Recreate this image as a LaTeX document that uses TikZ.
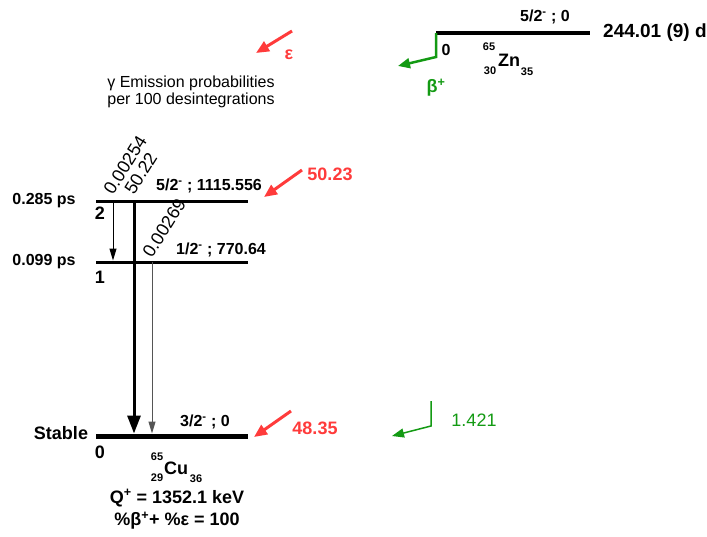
\documentclass[tikz,border=0pt]{standalone}
\usepackage{fontspec}
\setmainfont{Liberation Sans}
\usetikzlibrary{positioning,arrows.meta}
\definecolor{cRed}{HTML}{FF3B3B}
\definecolor{cGreen}{HTML}{139A13}
\definecolor{cGrey}{HTML}{555555}

\begin{document}
\begin{tikzpicture}[x=1pt,y=-1pt,
      lvl/.style={line width=3pt},
      txt/.style={inner sep=0pt,font=\bfseries\fontsize{16}{16}\selectfont},
      big/.style={inner sep=0pt,font=\bfseries\fontsize{18}{18}\selectfont},
      iso/.style={inner sep=0pt,font=\bfseries\fontsize{11}{11}\selectfont},
      note/.style={inner sep=0pt,font=\fontsize{16}{17}\selectfont,align=left},
      gam/.style={inner sep=0pt,anchor=base west,rotate=58,font=\fontsize{18}{18}\selectfont},
      feed/.style={cRed,line width=3pt,-{Triangle[length=13pt,width=11pt]}},
      beta/.style={cGreen,line width=2.5pt,-{Triangle[length=12pt,width=10pt]}}]
    \useasboundingbox (0,0) rectangle (707,536);
    % parent 65Zn
    \coordinate (znw) at (436,33);
    \coordinate (zne) at (590,33);
    \draw[line width=4.5pt] (znw) -- (zne);
    \node[txt] (znspin) at (545,17) {5/2\textsuperscript{-} ; 0};
    \node[big,anchor=west,font=\bfseries\fontsize{19}{19}\selectfont] (znhl) at (603,33) {244.01 (9) d};
    \node[txt] (znlev) at (446,50) {0};
    \node[big] (zn) at (509,60) {Zn};
    \node[iso] (znA) at (489,47) {65};
    \node[iso] (znZ) at (490,71) {30};
    \node[iso] (znN) at (527,72) {35};
    \coordinate (bk) at (436,57);
    \coordinate (bt) at (398,66);
    \draw[beta] (znw) -- (bk) -- (bt);
    \node[big,text=cGreen] (bplus) at (436,88) {β\textsuperscript{+}};
    \coordinate (es) at (292,31);
    \coordinate (et) at (256,53);
    \draw[feed] (es) -- (et);
    \node[big,text=cRed] (eps) at (289,55) {ε};
    \node[note] (info) at (191,92) {γ Emission probabilities\\per 100 desintegrations};
    % levels of 65Cu
    \coordinate (l2w) at (96,201);
    \coordinate (l2e) at (248,201);
    \coordinate (l1w) at (96,262);
    \coordinate (l1e) at (248,262);
    \coordinate (l0w) at (96,436);
    \coordinate (l0e) at (248,436);
    \draw[lvl] (l2w) -- (l2e);
    \draw[lvl] (l1w) -- (l1e);
    \draw[line width=5pt] (l0w) -- (l0e);
    \node[txt] (s2) at (209,186) {5/2\textsuperscript{-} ; 1115.556};
    \node[txt] (s1) at (221,250) {1/2\textsuperscript{-} ; 770.64};
    \node[txt] (s0) at (205,422) {3/2\textsuperscript{-} ; 0};
    \node[txt] (t2) at (44,201) {0.285 ps};
    \node[txt] (t1) at (44,262) {0.099 ps};
    \node[big] (t0) at (61,433) {Stable};
    \node[big] (e2) at (100,213) {2};
    \node[big] (e1) at (100,277) {1};
    \node[big] (e0) at (100,452) {0};
    \node[big] (cu) at (176,468) {Cu};
    \node[iso] (cuA) at (157,457) {65};
    \node[iso] (cuZ) at (157,478) {29};
    \node[iso] (cuN) at (196,479) {36};
    \node[big] (qval) at (177,498) {Q\textsuperscript{+} = 1352.1 keV};
    \node[big] (sum) at (177,521) {\%β\textsuperscript{+}+ \%ε = 100};
    % gamma transitions
    \coordinate (g21s) at (113,201);
    \coordinate (g21t) at (113,260.5);
    \coordinate (g20s) at (134,201);
    \coordinate (g20t) at (134,433.5);
    \coordinate (g10s) at (152,262);
    \coordinate (g10t) at (152,433.5);
    \draw[line width=1pt,-{Triangle[length=12pt,width=7pt]}] (g21s) -- (g21t);
    \draw[line width=3pt,-{Triangle[length=18pt,width=13pt]}] (g20s) -- (g20t);
    \draw[cGrey,line width=1pt,-{Triangle[length=12pt,width=7pt]}] (g10s) -- (g10t);
    \node[gam] (g21) at (113,196) {0.00254};
    \node[gam] (g20) at (134,196) {50.22};
    \node[gam] (g10) at (152,259) {0.00269};
    % feedings
    \coordinate (f2s) at (302,170);
    \coordinate (f2t) at (264,197);
    \coordinate (f0s) at (291,411);
    \coordinate (f0t) at (254,437);
    \draw[feed] (f2s) -- (f2t);
    \draw[feed] (f0s) -- (f0t);
    \node[big,text=cRed] (i2) at (330,174) {50.23};
    \node[big,text=cRed] (i0) at (315,428) {48.35};
    \coordinate (b0s) at (431,401);
    \coordinate (b0k) at (431,426);
    \coordinate (b0t) at (392,436);
    \draw[cGreen,line width=1.5pt,-{Triangle[length=12pt,width=9pt]}] (b0s) -- (b0k) -- (b0t);
    \node[inner sep=0pt,text=cGreen,font=\fontsize{18}{18}\selectfont] (ib0) at (474,420) {1.421};
  \end{tikzpicture}
\end{document}
